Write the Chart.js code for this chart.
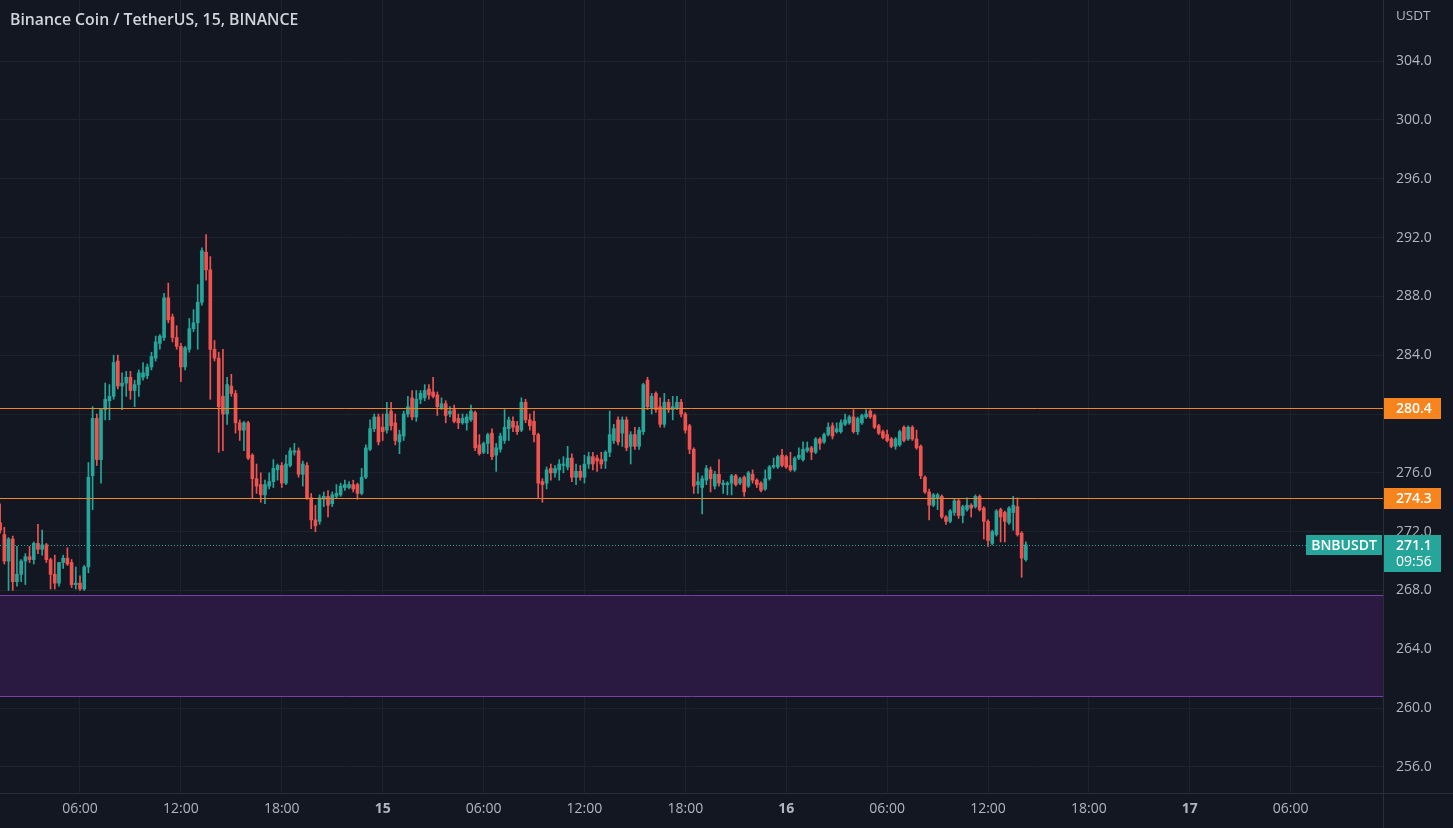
<!DOCTYPE html>
<html>
<head>
<meta charset="utf-8">
<title>Binance Coin / TetherUS, 15, BINANCE</title>
<script src="https://cdn.jsdelivr.net/npm/chart.js@4.4.1/dist/chart.umd.min.js"></script>
<style>
    html, body { margin: 0; padding: 0; background: #131722; }
    #wrap { position: relative; width: 1453px; height: 828px; }
</style>
</head>
<body>
<div id="wrap"><canvas id="bnbChart"></canvas></div>
<script>
// x values are 15-minute bars counted from 14th 00:00
const firstBar = 5; // 01:15 on the 14th

const opens = [
    272.6, 271.8, 270.0, 271.5, 268.6, 269.1, 270.0, 270.3, 270.1, 271.2,
    270.8, 271.1, 270.1, 269.1, 268.5, 269.9, 270.2, 269.9, 268.4, 268.5,
    268.1, 269.6, 275.8, 279.7, 276.9, 280.3, 280.9, 281.2, 283.6, 281.9,
    282.1, 282.5, 281.6, 282.0, 282.5, 282.6, 283.2, 283.8, 284.8, 285.2,
    287.9, 286.6, 285.2, 284.6, 283.2, 284.4, 285.8, 286.2, 287.6, 291.0,
    289.8,
    284.4, 283.8, 281.2, 280.0, 281.9, 281.4, 279.4, 278.9, 279.4, 277.2, 275.6,
    275.2, 274.5, 275.1, 275.4, 276.2, 276.5, 275.3, 276.5, 277.4, 277.5,
    275.9, 276.5, 274.3, 272.8, 272.7, 274.2, 274.4, 273.9, 274.4, 274.5,
    275.0, 275.0, 275.2, 275.2, 274.6, 275.7, 277.6, 279.0, 279.8, 279.1,
    278.9, 280.2, 279.4, 278.1, 278.5, 280.0, 281.1, 279.8,
    281.0, 281.1, 281.7, 281.5, 281.3, 280.4, 280.7, 280.0, 280.3, 279.7,
    279.4, 279.4, 279.6, 280.1, 277.9, 277.4, 278.0, 278.7, 277.2, 277.6,
    278.2, 279.0, 279.5, 279.2, 278.9, 280.8, 279.6, 279.5, 278.6, 275.4,
    275.3, 276.3, 276.0, 276.2, 276.5, 276.4, 277.0, 275.7, 276.1, 275.7,
    276.6, 277.1, 277.0, 276.9, 276.8, 277.4,
    278.2, 279.6, 278.7, 279.6, 277.8, 278.6, 277.8, 278.8, 282.3, 280.4,
    281.4, 280.5, 279.3, 280.8, 280.3, 280.4, 280.8, 280.0, 279.2, 277.6,
    275.2, 275.0, 275.5, 276.2, 275.1, 275.9, 275.2, 275.2, 275.3, 275.8,
    275.3, 275.7, 275.1, 275.9, 275.5, 275.3, 274.9, 275.6, 276.4, 276.4,
    277.2, 277.1, 276.5, 276.2, 277.0, 276.9, 277.5, 277.7, 277.4, 278.3,
    278.1, 278.6,
    279.2, 278.8, 278.8, 279.3, 279.4, 279.8, 278.8, 279.4, 279.8, 280.2,
    279.9, 279.2, 278.8, 278.6, 278.3, 277.8, 277.9, 279.1, 278.3, 279.1,
    278.3, 277.8, 275.7, 274.7, 273.8, 274.3, 274.4, 273.0, 272.7, 273.3,
    274.1, 273.1, 273.5, 273.8, 273.7, 274.4, 273.6, 272.7, 271.2, 271.8,
    273.5, 273.3, 272.6, 273.3, 273.7, 271.9, 270.1
];

const highs = [
    273.9, 272.3, 271.6, 271.7, 271.0, 270.1, 270.5, 271.0, 271.3, 272.5,
    272.1, 271.2, 270.2, 270.4, 269.9, 270.4, 270.9, 270.1, 269.6, 269.0,
    269.7, 276.7, 280.5, 280.0, 280.3, 282.1, 282.0, 284.0, 284.0, 282.8,
    282.9, 282.9, 282.3, 283.0, 283.5, 283.4, 284.2, 285.3, 285.4, 288.2,
    288.9, 286.8, 286.0, 284.8, 284.6, 286.5, 287.1, 288.8, 291.3, 292.2,
    290.7,
    285.0, 284.2, 284.4, 282.5, 282.7, 281.6, 279.6, 279.5, 279.5, 277.3, 276.6,
    276.0, 275.5, 276.0, 276.9, 276.6, 276.7, 277.2, 277.7, 278.0, 277.7,
    276.8, 276.7, 274.6, 273.8, 274.5, 274.7, 274.8, 274.7, 275.2, 275.3,
    275.5, 275.4, 275.5, 275.3, 276.3, 277.9, 279.6, 280.0, 280.0, 280.0,
    280.8, 280.8, 280.0, 278.9, 280.2, 281.2, 281.6, 281.6,
    281.6, 282.0, 282.0, 282.5, 281.5, 281.1, 280.9, 280.5, 280.6, 280.0,
    280.0, 280.0, 280.6, 280.2, 278.6, 278.1, 278.7, 279.0, 278.0, 278.7,
    280.3, 279.8, 279.8, 279.5, 281.1, 281.0, 280.0, 280.2, 278.7, 275.6,
    276.4, 276.6, 276.5, 276.9, 277.1, 277.8, 277.3, 276.6, 276.5, 277.2,
    277.4, 277.4, 277.2, 277.4, 277.5, 280.2,
    279.3, 279.8, 279.8, 279.8, 278.8, 279.1, 279.1, 282.1, 282.5, 281.4,
    281.5, 281.1, 281.4, 281.0, 281.2, 281.2, 281.0, 280.1, 279.3, 277.7,
    276.0, 275.8, 276.5, 276.4, 276.1, 276.9, 275.5, 275.4, 275.9, 275.9,
    275.7, 275.8, 276.1, 276.2, 275.6, 275.4, 276.2, 276.5, 277.0, 277.2,
    277.6, 277.2, 277.4, 277.1, 277.7, 278.1, 278.1, 277.8, 278.4, 278.4,
    278.7, 279.4,
    279.4, 279.4, 279.6, 280.0, 279.9, 280.3, 279.8, 280.0, 280.3, 280.3,
    280.0, 279.3, 278.9, 278.9, 278.4, 278.4, 278.9, 279.2, 279.2, 279.2,
    278.9, 277.9, 275.8, 274.9, 274.6, 274.6, 274.5, 273.1, 273.5, 274.2,
    274.2, 273.8, 274.3, 273.9, 274.5, 274.5, 273.7, 272.8, 272.1, 273.5,
    273.6, 273.4, 273.7, 274.4, 274.3, 272.0, 271.3
];

const lows = [
    271.9, 269.8, 268.0, 268.0, 268.3, 268.6, 268.4, 269.9, 269.8, 270.5,
    270.4, 269.9, 268.1, 268.1, 268.3, 269.5, 269.7, 268.2, 268.1, 268.0,
    268.0, 269.2, 273.5, 276.5, 275.3, 279.6, 279.6, 281.0, 281.7, 280.3,
    281.2, 281.0, 280.5, 281.2, 282.3, 282.4, 283.0, 283.6, 284.4, 285.0,
    286.2, 284.9, 284.4, 282.2, 283.0, 284.2, 285.6, 284.4, 287.4, 289.1,
    281.0,
    283.6, 277.4, 277.5, 279.3, 281.2, 278.7, 278.2, 277.5, 276.9, 274.3, 274.6,
    274.0, 273.9, 274.9, 275.0, 275.5, 275.0, 275.2, 276.4, 277.2, 275.7,
    275.1, 274.2, 272.2, 272.0, 272.5, 273.7, 273.0, 273.7, 274.3, 274.4,
    274.8, 274.9, 274.7, 274.2, 274.5, 275.6, 277.5, 278.8, 277.9, 278.2,
    278.7, 278.9, 277.9, 277.3, 278.2, 279.8, 279.6, 279.5,
    280.7, 280.9, 281.0, 281.1, 279.9, 280.3, 279.4, 279.8, 279.4, 279.0,
    279.3, 278.9, 279.5, 277.5, 277.2, 277.3, 277.3, 276.9, 276.1, 277.4,
    278.0, 278.2, 278.8, 278.6, 278.8, 279.4, 278.9, 278.1, 274.3, 274.0,
    274.9, 275.5, 275.7, 275.5, 276.0, 276.2, 275.4, 275.2, 275.5, 275.3,
    276.3, 276.2, 276.1, 276.3, 276.3, 277.1,
    278.0, 277.9, 277.8, 277.5, 276.6, 277.6, 277.6, 278.6, 280.3, 280.0,
    280.1, 279.1, 279.1, 280.1, 279.6, 280.3, 279.8, 278.7, 277.3, 274.6,
    274.6, 273.2, 275.2, 274.7, 274.9, 275.1, 274.6, 274.5, 274.5, 275.1,
    275.2, 274.4, 275.0, 275.3, 275.0, 274.7, 274.8, 275.5, 276.3, 276.3,
    276.4, 276.3, 276.1, 276.1, 276.9, 276.8, 277.4, 276.9, 277.3, 277.6,
    278.0, 278.5,
    278.3, 278.7, 278.7, 279.2, 279.3, 278.7, 278.6, 279.3, 279.7, 279.7,
    279.0, 278.6, 278.3, 278.1, 277.7, 277.6, 277.8, 278.1, 278.2, 278.2,
    277.6, 275.6, 274.6, 272.8, 273.7, 273.5, 272.9, 272.5, 272.6, 273.1,
    272.9, 272.6, 273.4, 273.0, 273.6, 273.4, 271.5, 271.0, 271.1, 271.7,
    271.3, 271.3, 272.5, 272.1, 271.7, 268.9, 270.0
];

const closes = [
    272.1, 270.0, 271.5, 268.6, 269.1, 270.0, 270.3, 270.1, 271.2, 270.8,
    271.1, 270.1, 269.1, 268.5, 269.9, 270.2, 269.8, 268.4, 268.5, 268.1,
    269.6, 275.7, 279.7, 276.9, 280.3, 281.0, 281.2, 283.5, 281.9, 282.1,
    282.5, 281.6, 282.0, 282.8, 282.8, 283.2, 283.9, 284.9, 285.3, 287.9,
    286.4, 285.2, 284.6, 283.2, 284.5, 285.8, 286.2, 287.6, 291.1, 289.8,
    284.4,
    283.8, 280.5, 280.0, 282.0, 281.4, 279.4, 278.9, 279.4, 277.0, 275.6, 275.1,
    274.5, 275.2, 275.4, 276.3, 276.5, 275.3, 276.6, 277.5, 277.5, 275.9,
    276.6, 274.3, 272.8, 272.4, 274.3, 274.4, 273.8, 274.5, 274.6, 275.1,
    275.2, 275.2, 274.9, 274.6, 275.7, 277.7, 279.0, 279.8, 278.1, 278.8,
    280.0, 279.2, 278.2, 278.6, 280.0, 280.5, 279.8, 281.0,
    281.4, 281.6, 281.3, 281.2, 280.5, 280.7, 279.9, 280.2, 279.5, 279.4,
    279.7, 279.8, 280.2, 277.7, 277.3, 278.0, 278.6, 277.1, 277.7, 278.5,
    279.1, 279.6, 279.1, 278.8, 280.8, 279.6, 279.2, 278.6, 275.3, 275.2,
    276.2, 276.0, 276.3, 276.6, 276.6, 277.0, 275.7, 276.1, 275.7, 276.6,
    277.1, 276.6, 276.8, 276.6, 277.4, 278.6,
    279.0, 278.1, 279.6, 277.7, 278.6, 277.8, 278.9, 282.0, 280.5, 281.2,
    280.3, 279.3, 280.8, 280.3, 280.5, 280.8, 280.0, 278.9, 277.6, 275.1,
    275.4, 275.6, 276.3, 275.6, 275.9, 275.3, 275.3, 275.3, 275.8, 275.2,
    275.6, 274.7, 276.0, 275.5, 275.2, 274.8, 275.6, 276.4, 276.5, 277.1,
    276.5, 276.4, 276.2, 277.0, 277.2, 277.6, 277.7, 277.4, 278.3, 278.0,
    278.6, 279.1,
    278.5, 279.0, 279.4, 279.6, 279.8, 278.8, 279.7, 279.9, 280.0, 279.8,
    279.1, 278.7, 278.4, 278.2, 277.8, 278.3, 278.8, 278.2, 279.1, 278.3,
    277.7, 275.8, 274.7, 273.8, 274.5, 274.5, 273.0, 272.7, 273.4, 274.1,
    273.1, 273.7, 273.8, 273.6, 274.4, 273.5, 272.7, 271.4, 272.0, 273.4,
    273.0, 272.7, 273.6, 273.8, 271.8, 270.2, 271.1
];

// axis ticks
const priceTicks = [256, 260, 264, 268, 272, 276, 280, 284, 288, 292, 296, 300, 304];
const timeTicks = [24, 48, 72, 96, 120, 144, 168, 192, 216, 240, 264, 288, 312];
const timeLabels = ["06:00", "12:00", "18:00", "15", "06:00", "12:00", "18:00", "16", "06:00", "12:00", "18:00", "17", "06:00"];

// drawings on the chart
const levels = [280.4, 274.3];
const zone = [260.8, 267.7];
const lastPrice = 271.1;
const countdown = "09:56";
const symbol = "BNBUSDT";
const title = "Binance Coin / TetherUS, 15, BINANCE";
const currency = "USDT";

const UP = "#26a69a";
const DOWN = "#ef5350";
const ORANGE = "#f7841c";
const GRID = "#1e222d";
const TEXT = "#b2b5be";
const FONT = "'Open Sans', sans-serif";

const candleColors = opens.map((o, i) => (closes[i] >= o ? UP : DOWN));
const wickData = opens.map((o, i) => ({
    x: firstBar + i,
    y: [Math.min(lows[i], o, closes[i]), Math.max(highs[i], o, closes[i])],
}));
const bodyData = opens.map((o, i) => ({
    x: firstBar + i,
    y: [Math.min(o, closes[i]), Math.max(o, closes[i])],
}));

// Drawings, price labels and separators on top of the chart
const overlayPlugin = {
    id: "overlay",
    beforeDatasetsDraw(chart) {
        const { ctx, chartArea: a, scales: { y } } = chart;
        const top = y.getPixelForValue(zone[1]);
        const bottom = y.getPixelForValue(zone[0]);
        ctx.save();
        ctx.fillStyle = "#2a1a42";
        ctx.fillRect(a.left, top, a.right - a.left, bottom - top);
        ctx.strokeStyle = "#7b3ca6";
        ctx.lineWidth = 1;
        ctx.beginPath();
        ctx.moveTo(a.left, Math.round(top) + 0.5);
        ctx.lineTo(a.right, Math.round(top) + 0.5);
        ctx.moveTo(a.left, Math.round(bottom) + 0.5);
        ctx.lineTo(a.right, Math.round(bottom) + 0.5);
        ctx.stroke();
        ctx.restore();
    },
    afterDatasetsDraw(chart) {
        const { ctx, chartArea: a, scales: { y } } = chart;
        ctx.save();
        ctx.lineWidth = 1;
        ctx.strokeStyle = ORANGE;
        levels.forEach((v) => {
            const py = Math.round(y.getPixelForValue(v)) + 0.5;
            ctx.beginPath();
            ctx.moveTo(a.left, py);
            ctx.lineTo(a.right, py);
            ctx.stroke();
        });
        // last price dotted line
        const lp = Math.round(y.getPixelForValue(lastPrice)) + 0.5;
        ctx.strokeStyle = UP;
        ctx.setLineDash([1, 2]);
        ctx.beginPath();
        ctx.moveTo(a.left, lp);
        ctx.lineTo(a.right - 77, lp);
        ctx.stroke();
        ctx.restore();
    },
    afterDraw(chart) {
        const { ctx, chartArea: a, scales: { y }, width, height } = chart;
        ctx.save();
        // panel separators
        ctx.strokeStyle = "#2a2e39";
        ctx.lineWidth = 1;
        ctx.beginPath();
        ctx.moveTo(0, a.bottom + 0.5);
        ctx.lineTo(width, a.bottom + 0.5);
        ctx.moveTo(a.right + 0.5, 0);
        ctx.lineTo(a.right + 0.5, height);
        ctx.stroke();

        // title and currency
        ctx.textBaseline = "middle";
        ctx.textAlign = "left";
        ctx.fillStyle = "#d1d4dc";
        ctx.font = "600 15.8px " + FONT;
        ctx.fillText(title, 10, 20);
        ctx.fillStyle = TEXT;
        ctx.font = "13.5px " + FONT;
        ctx.fillText(currency, a.right + 13, 16);

        // level labels on the price axis
        ctx.font = "600 14px " + FONT;
        levels.forEach((v) => {
            const py = Math.round(y.getPixelForValue(v));
            ctx.fillStyle = ORANGE;
            ctx.fillRect(a.right + 1, py - 10, 57, 21);
            ctx.fillStyle = "#ffffff";
            ctx.fillText(v.toFixed(1), a.right + 13, py + 1);
        });

        // last price label and symbol tag
        const lp = Math.round(y.getPixelForValue(lastPrice));
        ctx.fillStyle = UP;
        ctx.fillRect(a.right + 1, lp - 10, 57, 37);
        ctx.fillRect(a.right - 77, lp - 10, 76, 20);
        ctx.fillStyle = "#ffffff";
        ctx.fillText(lastPrice.toFixed(1), a.right + 13, lp + 1);
        ctx.font = "14px " + FONT;
        ctx.fillText(countdown, a.right + 13, lp + 17);
        ctx.font = "600 14px " + FONT;
        ctx.textAlign = "center";
        ctx.fillText(symbol, a.right - 39, lp + 1);
        ctx.restore();
    },
};

const bnbChart = new Chart(document.getElementById("bnbChart"), {
    type: "bar",
    data: {
        datasets: [
            {
                label: "wick",
                data: wickData,
                backgroundColor: candleColors,
                barThickness: 1,
                grouped: false,
                order: 2,
            },
            {
                label: "body",
                data: bodyData,
                backgroundColor: candleColors,
                barThickness: 3,
                minBarLength: 1,
                grouped: false,
                order: 1,
            },
        ],
    },
    options: {
        responsive: true,
        maintainAspectRatio: false,
        animation: false,
        layout: { padding: 0 },
        plugins: {
            legend: { display: false },
            tooltip: { enabled: false },
        },
        scales: {
            x: {
                type: "linear",
                min: 4.97,
                max: 333.96,
                offset: false,
                grid: { color: GRID, drawTicks: false, offset: false },
                border: { display: false },
                afterBuildTicks: (scale) => {
                    scale.ticks = timeTicks.map((v) => ({ value: v }));
                },
                afterFit: (scale) => {
                    scale.height = 35;
                    scale.paddingLeft = 0;
                    scale.paddingRight = 0;
                },
                ticks: {
                    color: TEXT,
                    padding: 8,
                    maxRotation: 0,
                    autoSkip: false,
                    font: (ctx) => ({
                        family: FONT,
                        size: 14,
                        weight: ctx.tick && ctx.tick.value % 96 === 0 ? "bold" : "normal",
                    }),
                    callback: (value, index) => timeLabels[index],
                },
            },
            y: {
                type: "linear",
                position: "right",
                min: 254.23,
                max: 308.15,
                grid: { color: GRID, drawTicks: false },
                border: { display: false },
                afterBuildTicks: (scale) => {
                    scale.ticks = priceTicks.map((v) => ({ value: v }));
                },
                afterFit: (scale) => {
                    scale.width = 70;
                    scale.paddingTop = 0;
                    scale.paddingBottom = 0;
                },
                ticks: {
                    color: TEXT,
                    padding: 13,
                    font: { family: FONT, size: 14 },
                    callback: (value) => value.toFixed(1),
                },
            },
        },
    },
    plugins: [overlayPlugin],
});
</script>
</body>
</html>
